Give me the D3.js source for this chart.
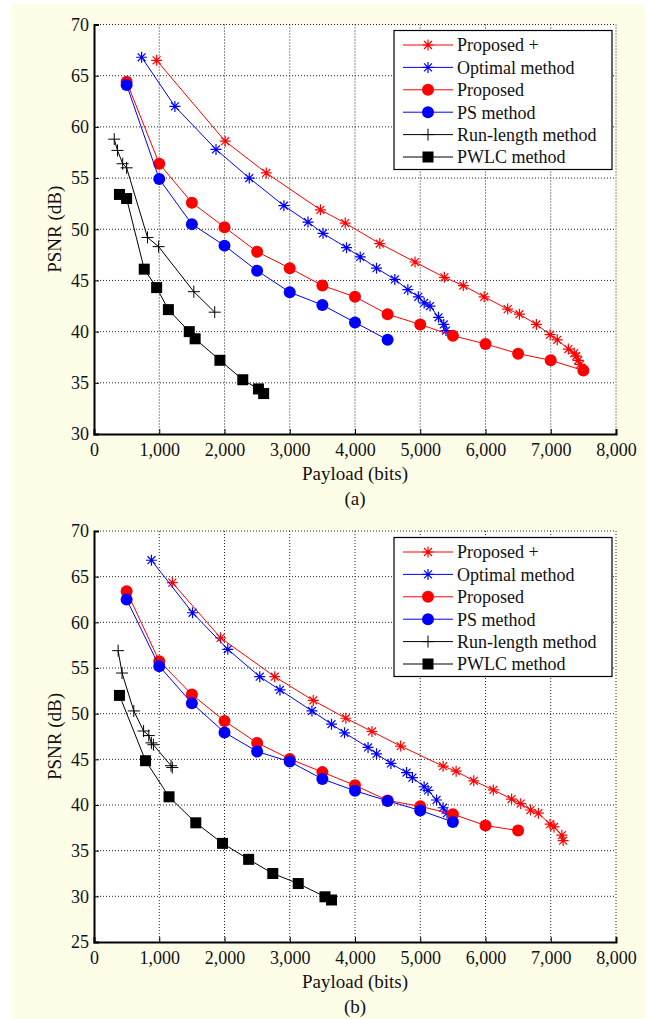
<!DOCTYPE html>
<html>
<head>
<meta charset="utf-8">
<script src="https://cdn.jsdelivr.net/npm/d3@7"></script>
<style>
  html, body { margin: 0; padding: 0; background: #ffffff; }
  svg text { font-family: "Liberation Serif", "Times New Roman", serif !important; fill: #111; }
</style>
</head>
<body>
<svg id="chart" width="651" height="1019"></svg>
<script>
// series names, in legend order
var seriesNames = ['Proposed +', 'Optimal method', 'Proposed', 'PS method', 'Run-length method', 'PWLC method'];
var xTicks = [0, 1000, 2000, 3000, 4000, 5000, 6000, 7000, 8000];
var yTicksA = [30, 35, 40, 45, 50, 55, 60, 65, 70];
var yTicksB = [25, 30, 35, 40, 45, 50, 55, 60, 65, 70];

// panel (a) : [payload, psnr]
var proposedPlusA = [[960,66.5],[2010,58.6],[2640,55.5],[3470,51.9],[3850,50.6],[4380,48.6],[4920,46.8],[5370,45.3],[5660,44.5],[5980,43.4],[6340,42.2],[6520,41.7],[6780,40.7],[6990,39.7],[7100,39.2],[7270,38.3],[7360,37.9],[7390,37.6],[7420,37.2],[7450,36.8]];
var optimalA = [[730,66.8],[1240,62.0],[1870,57.8],[2380,55.0],[2910,52.3],[3280,50.7],[3510,49.6],[3870,48.2],[4080,47.3],[4330,46.2],[4610,45.1],[4810,44.1],[4970,43.4],[5060,42.8],[5150,42.5],[5280,41.4],[5360,40.7],[5395,40.1]];
var proposedA = [[500,64.4],[1000,56.4],[1500,52.6],[2000,50.2],[2500,47.8],[3000,46.2],[3500,44.5],[4000,43.4],[4500,41.7],[5000,40.7],[5500,39.6],[6000,38.8],[6500,37.85],[7000,37.2],[7500,36.2]];
var psA = [[500,64.1],[1000,54.9],[1500,50.5],[2000,48.4],[2500,45.95],[3000,43.85],[3500,42.6],[4000,40.9],[4500,39.2]];
var runLengthA = [[310,58.8],[360,57.7],[440,56.4],[500,56.0],[820,49.2],[990,48.3],[1530,43.9],[1850,41.9]];
var pwlcA = [[390,53.4],[500,53.0],[770,46.1],[960,44.3],[1140,42.15],[1460,40.0],[1550,39.3],[1930,37.2],[2280,35.3],[2520,34.4],[2600,33.95]];

// panel (b)
var proposedPlusB = [[1200,64.35],[1940,58.3],[2770,54.05],[3360,51.45],[3860,49.5],[4260,48.05],[4700,46.45],[5350,44.25],[5550,43.7],[5820,42.65],[6120,41.65],[6400,40.65],[6540,40.15],[6690,39.45],[6810,39.1],[6990,37.9],[7050,37.6],[7170,36.7],[7190,36.1]];
var optimalB = [[880,66.8],[1510,61.05],[2050,57.05],[2540,54.05],[2850,52.6],[3340,50.3],[3640,48.85],[3840,47.9],[4200,46.3],[4330,45.6],[4550,44.55],[4790,43.55],[4880,43.0],[5060,42.0],[5120,41.6],[5250,40.55],[5350,39.7],[5410,39.1]];
var proposedB = [[500,63.4],[1000,55.75],[1500,52.1],[2000,49.2],[2500,46.8],[3000,45.05],[3500,43.6],[4000,42.15],[4500,40.5],[5000,39.85],[5500,39.0],[6000,37.75],[6500,37.2]];
var psB = [[500,62.5],[1000,55.2],[1500,51.15],[2000,47.95],[2500,45.85],[3000,44.75],[3500,42.85],[4000,41.55],[4500,40.45],[5000,39.4],[5500,38.15]];
var runLengthB = [[370,56.9],[430,54.45],[610,50.3],[760,48.1],[840,47.6],[880,46.8],[910,46.6],[1180,44.3],[1200,44.1]];
var pwlcB = [[390,52.0],[790,44.85],[1150,40.9],[1560,38.05],[1970,35.8],[2370,34.05],[2740,32.5],[3130,31.4],[3540,29.95],[3640,29.6]];

var FONT = 'Liberation Serif, Times New Roman, serif';

var styles = [
  {color: '#ff0000', marker: 'star'},
  {color: '#0000ff', marker: 'star'},
  {color: '#ff0000', marker: 'circle'},
  {color: '#0000ff', marker: 'circle'},
  {color: '#000000', marker: 'plus'},
  {color: '#000000', marker: 'square'}
];

var svg = d3.select('#chart');
svg.append('rect').attr('x', 12).attr('y', 4).attr('width', 633).attr('height', 1015).attr('fill', '#fefee8');

var drawMarker = function(g, type, color, x, y) {
  if (type === 'circle') {
    g.append('circle').attr('cx', x).attr('cy', y).attr('r', 6).attr('fill', color);
  } else if (type === 'square') {
    g.append('rect').attr('x', x - 5.5).attr('y', y - 5.5).attr('width', 11).attr('height', 11).attr('fill', color);
  } else if (type === 'plus') {
    g.append('path').attr('d', 'M' + (x - 6) + ',' + y + 'H' + (x + 6) + 'M' + x + ',' + (y - 6) + 'V' + (y + 6))
      .attr('stroke', color).attr('stroke-width', 1).attr('fill', 'none');
  } else {
    var s = 5.5, d = s * 0.72;
    g.append('path').attr('d', 'M' + (x - s) + ',' + y + 'H' + (x + s) + 'M' + x + ',' + (y - s) + 'V' + (y + s) +
        'M' + (x - d) + ',' + (y - d) + 'L' + (x + d) + ',' + (y + d) + 'M' + (x - d) + ',' + (y + d) + 'L' + (x + d) + ',' + (y - d))
      .attr('stroke', color).attr('stroke-width', 1.2).attr('fill', 'none');
  }
};

function drawPanel(cfg) {
  var left = 94, right = 616;
  var x = d3.scaleLinear().domain([0, 8000]).range([left, right]);
  var y = d3.scaleLinear().domain(cfg.yDomain).range([cfg.bottom, cfg.top]);
  var g = svg.append('g').attr('font-family', FONT);

  g.append('rect').attr('x', left).attr('y', cfg.top).attr('width', right - left).attr('height', cfg.bottom - cfg.top).attr('fill', '#ffffff');

  // grid
  g.append('g').selectAll('line.gx').data(xTicks.slice(1)).enter().append('line')
    .attr('x1', function(d) { return x(d); }).attr('x2', function(d) { return x(d); })
    .attr('y1', cfg.top).attr('y2', cfg.bottom)
    .attr('stroke', '#222').attr('stroke-width', 1).attr('stroke-dasharray', '1,2');
  g.append('g').selectAll('line.gy').data(cfg.yTicks.slice(1)).enter().append('line')
    .attr('x1', left).attr('x2', right)
    .attr('y1', function(d) { return y(d); }).attr('y2', function(d) { return y(d); })
    .attr('stroke', '#222').attr('stroke-width', 1).attr('stroke-dasharray', '1,2');

  // axes
  var xAxis = d3.axisBottom(x).tickValues(xTicks).tickSize(-5).tickPadding(9).tickFormat(d3.format(','));
  var gx = g.append('g').attr('transform', 'translate(0,' + cfg.bottom + ')').call(xAxis);
  var yAxis = d3.axisLeft(y).tickValues(cfg.yTicks).tickSize(-5).tickPadding(5).tickFormat(d3.format('d'));
  var gy = g.append('g').attr('transform', 'translate(' + left + ',0)').call(yAxis);
  [gx, gy].forEach(function(a) {
    a.attr('font-family', FONT).attr('font-size', 18);
    a.select('.domain').attr('stroke', '#000').attr('stroke-width', 2);
    a.selectAll('.tick line').attr('stroke', '#000');
    a.selectAll('.tick text').attr('fill', '#111').attr('font-family', FONT).attr('font-size', 18);
  });

  // series
  cfg.series.forEach(function(data, i) {
    var st = styles[i];
    var line = d3.line().x(function(d) { return x(d[0]); }).y(function(d) { return y(d[1]); });
    g.append('path').datum(data).attr('d', line).attr('fill', 'none').attr('stroke', st.color).attr('stroke-width', 1);
    var mg = g.append('g');
    data.forEach(function(d) { drawMarker(mg, st.marker, st.color, x(d[0]), y(d[1])); });
  });

  // legend
  var lx = 394, ly = cfg.legendTop, lw = 218, lh = 139;
  var lg = g.append('g');
  lg.append('rect').attr('x', lx).attr('y', ly).attr('width', lw).attr('height', lh)
    .attr('fill', '#fff').attr('stroke', '#000').attr('stroke-width', 1.2);
  seriesNames.forEach(function(name, i) {
    var cy = ly + 14.5 + i * 22.4;
    lg.append('line').attr('x1', 403).attr('x2', 453).attr('y1', cy).attr('y2', cy)
      .attr('stroke', styles[i].color).attr('stroke-width', 1);
    drawMarker(lg, styles[i].marker, styles[i].color, 428, cy);
    lg.append('text').attr('x', 457).attr('y', cy).attr('dy', '0.35em').attr('font-size', 18)
      .attr('font-family', FONT).text(name);
  });

  // labels
  g.append('text').attr('x', (left + right) / 2).attr('y', cfg.bottom + 46).attr('text-anchor', 'middle')
    .attr('font-size', 19).attr('font-family', FONT).text('Payload (bits)');
  g.append('text').attr('transform', 'translate(61,' + ((cfg.top + cfg.bottom) / 2) + ') rotate(-90)')
    .attr('text-anchor', 'middle').attr('font-size', 19).attr('font-family', FONT).text('PSNR (dB)');
  g.append('text').attr('x', (left + right) / 2).attr('y', cfg.bottom + 71).attr('text-anchor', 'middle')
    .attr('font-size', 19).attr('font-family', FONT).text(cfg.caption);
}

drawPanel({top: 24.5, bottom: 434, yDomain: [30, 70], yTicks: yTicksA, legendTop: 30.5, caption: '(a)',
  series: [proposedPlusA, optimalA, proposedA, psA, runLengthA, pwlcA]});
drawPanel({top: 531, bottom: 942, yDomain: [25, 70], yTicks: yTicksB, legendTop: 537.5, caption: '(b)',
  series: [proposedPlusB, optimalB, proposedB, psB, runLengthB, pwlcB]});
</script>
</body>
</html>
